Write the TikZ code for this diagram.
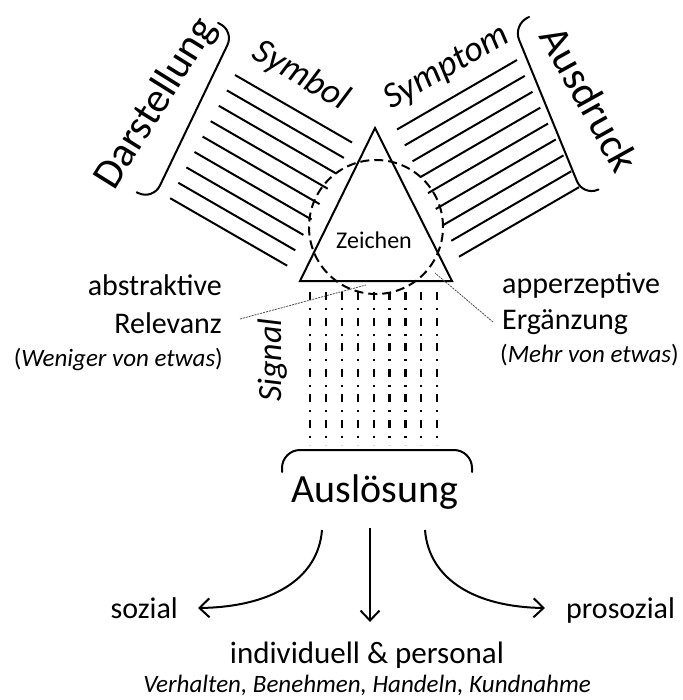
\documentclass[tikz,border=0pt]{standalone}
\usepackage{fontspec}
\setmainfont{Carlito}
\usetikzlibrary{arrows.meta}
\newcommand\fsz[1]{\fontsize{#1}{#1}\selectfont}

\begin{document}
\begin{tikzpicture}[x=1pt,y=1pt,
  stroke/.style={line width=2pt, line cap=round, line join=round},
  band/.style={line width=2pt},
  circ/.style={line width=2pt, dash pattern=on 9pt off 5pt},
  sigline/.style={line width=2.2pt, dash pattern=on 8pt off 8pt on 2pt off 7.5pt},
  thinlead/.style={line width=0.8pt, dash pattern=on 2pt off 1pt, black!70},
  arr/.style={line width=2pt, -{Straight Barb[length=10pt,width=19pt,line width=2pt]}},
  txt/.style={inner sep=0pt},
]
\fill[white] (0,0) rectangle (682,-700);
\useasboundingbox (0,0) rectangle (682,-700);

% parallel bands on both flanks of the sign
\foreach \k in {0,...,8} {
  \draw[band] ({235-8.1*\k},{-75-15.4*\k}) -- ++(117,-67.5);
  \draw[band] ({517+7.75*\k},{-60-15.9*\k}) -- ++(-120,-69.5);
}

% the sign: triangle and dashed circle
\draw[line width=2pt, line join=miter] (375,-128) -- (452,-281) -- (300,-281) -- cycle;
\draw[circ] (376,-227) circle[radius=67];
\node[txt, font=\fsz{24}] (zeichen) at (374,-240) {Zeichen};

% signal rays towards the receiver
\foreach \x in {310,325.9,341.8,357.7,373.6,389.5,405.4,421.3,437.2}
  \draw[sigline] (\x,-292) -- (\x,-445);

% brackets
\draw[stroke, rounded corners=16pt] (218,-23) -- (234.3,-30.7) -- (153,-200) -- (136.7,-192.3);
\draw[stroke, rounded corners=16pt] (529,-17) -- (513,-25) -- (583,-196) -- (598.5,-189.5);
\draw[stroke, rounded corners=18pt] (282,-472) -- (282,-450) -- (472,-450) -- (472,-472);

% function labels
\node[txt, font=\fsz{42}, rotate=58] (darst) at (156,-104) {Darstellung};
\node[txt, font=\fsz{42}, rotate=-61] (ausdr) at (590,-99) {Ausdruck};
\node[txt, font=\fsz{40}, anchor=base] (ausl) at (375,-502) {Auslösung};

\node[txt, font=\fsz{36}\itshape, rotate=-30] (symb) at (301,-76) {Symbol};
\node[txt, font=\fsz{36}\itshape, rotate=30] (sympt) at (447,-68) {Symptom};
\node[txt, font=\fsz{34}\itshape, rotate=90] (sig) at (273,-360) {Signal};

% abstractive relevance / apperceptive supplement
\node[txt, font=\fsz{30}, anchor=base east] (abstr) at (222,-295) {abstraktive};
\node[txt, font=\fsz{30}, anchor=base east] (relev) at (222,-333) {Relevanz};
\node[txt, font=\fsz{25}, anchor=base east] (wenig) at (223,-366) {(\textit{Weniger von etwas})};

\node[txt, font=\fsz{30}, anchor=base west] (apperz) at (502,-293) {apperzeptive};
\node[txt, font=\fsz{30}, anchor=base west] (ergaenz) at (502,-329) {Ergänzung};
\node[txt, font=\fsz{25}, anchor=base west] (mehr) at (500,-362) {(\textit{Mehr von etwas})};

\coordinate (relA) at (240,-319);
\coordinate (relB) at (366,-285);
\coordinate (ergA) at (493,-322);
\coordinate (ergB) at (435,-273);
\draw[thinlead] (relA) -- (relB);
\draw[thinlead] (ergA) -- (ergB);

% outcomes of the appeal
\node[txt, font=\fsz{30}, anchor=base east] (sozial) at (178,-618) {sozial};
\node[txt, font=\fsz{30}, anchor=base west] (prosozial) at (566,-618) {prosozial};
\node[txt, font=\fsz{31}, anchor=base] (indiv) at (367,-663) {individuell \& personal};
\node[txt, font=\fsz{25}\itshape, anchor=base] (verh) at (367,-692) {Verhalten, Benehmen, Handeln, Kundnahme};

\coordinate (aL) at (322,-530);
\coordinate (aM) at (370,-528);
\coordinate (aR) at (425,-530);
\coordinate (tL) at (198,-608);
\coordinate (tM) at (370,-622);
\coordinate (tR) at (545,-608);
\draw[arr] (aL) .. controls (318,-580) and (270,-607) .. (tL);
\draw[arr] (aM) -- (tM);
\draw[arr] (aR) .. controls (429,-580) and (476,-607) .. (tR);
\end{tikzpicture}
\end{document}
